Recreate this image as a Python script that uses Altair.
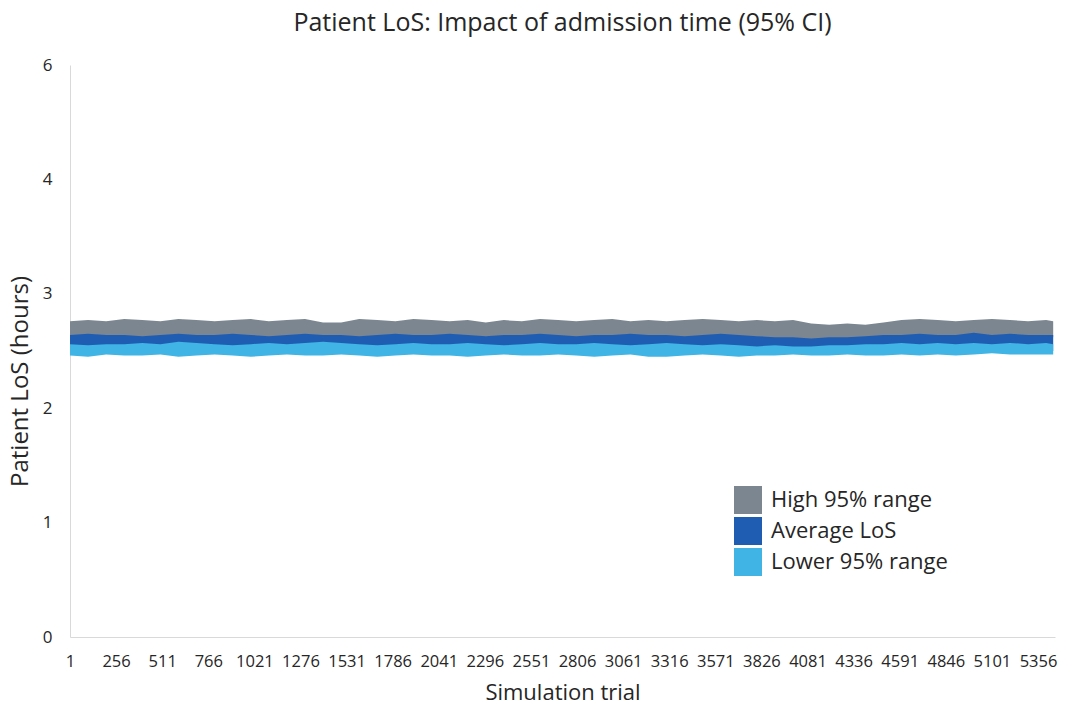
import altair as alt
import pandas as pd

trials = [1, 101, 201, 301, 401, 501, 601, 701, 801, 901,
          1001, 1101, 1201, 1301, 1401, 1501, 1601, 1701, 1801, 1901,
          2001, 2101, 2201, 2301, 2401, 2501, 2601, 2701, 2801, 2901,
          3001, 3101, 3201, 3301, 3401, 3501, 3601, 3701, 3801, 3901,
          4001, 4101, 4201, 4301, 4401, 4501, 4601, 4701, 4801, 4901,
          5001, 5101, 5201, 5301, 5401, 5440]

# upper / lower envelopes of each (dense, noisy) series
high_top = [2.76, 2.77, 2.76, 2.78, 2.77, 2.76, 2.78, 2.77, 2.76, 2.77,
            2.78, 2.76, 2.77, 2.78, 2.75, 2.75, 2.78, 2.77, 2.76, 2.78,
            2.77, 2.76, 2.77, 2.75, 2.77, 2.76, 2.78, 2.77, 2.76, 2.77,
            2.78, 2.76, 2.77, 2.76, 2.77, 2.78, 2.77, 2.76, 2.77, 2.76,
            2.77, 2.74, 2.73, 2.74, 2.73, 2.75, 2.77, 2.78, 2.77, 2.76,
            2.77, 2.78, 2.77, 2.76, 2.77, 2.76]
high_bot = [2.62, 2.62, 2.62, 2.62, 2.62, 2.62, 2.62, 2.62, 2.62, 2.62,
            2.62, 2.62, 2.62, 2.62, 2.62, 2.62, 2.62, 2.62, 2.62, 2.62,
            2.62, 2.62, 2.62, 2.62, 2.62, 2.62, 2.62, 2.62, 2.62, 2.62,
            2.62, 2.62, 2.62, 2.62, 2.62, 2.62, 2.62, 2.62, 2.61, 2.60,
            2.60, 2.60, 2.60, 2.60, 2.61, 2.62, 2.62, 2.62, 2.62, 2.62,
            2.62, 2.62, 2.62, 2.62, 2.62, 2.62]
avg_top = [2.64, 2.65, 2.64, 2.64, 2.63, 2.64, 2.65, 2.64, 2.64, 2.65,
           2.64, 2.63, 2.64, 2.65, 2.64, 2.64, 2.63, 2.64, 2.65, 2.64,
           2.64, 2.65, 2.64, 2.63, 2.64, 2.64, 2.65, 2.64, 2.63, 2.64,
           2.64, 2.65, 2.64, 2.64, 2.63, 2.64, 2.65, 2.64, 2.63, 2.62,
           2.62, 2.61, 2.62, 2.62, 2.63, 2.64, 2.64, 2.65, 2.64, 2.64,
           2.66, 2.64, 2.65, 2.64, 2.64, 2.64]
avg_bot = [2.53, 2.53, 2.53, 2.53, 2.53, 2.53, 2.53, 2.53, 2.53, 2.53,
           2.53, 2.53, 2.53, 2.53, 2.53, 2.53, 2.53, 2.53, 2.53, 2.53,
           2.53, 2.53, 2.53, 2.53, 2.53, 2.53, 2.53, 2.53, 2.53, 2.53,
           2.53, 2.53, 2.53, 2.53, 2.53, 2.53, 2.53, 2.53, 2.52, 2.52,
           2.52, 2.52, 2.52, 2.52, 2.53, 2.53, 2.53, 2.53, 2.53, 2.53,
           2.53, 2.53, 2.53, 2.53, 2.53, 2.50]
low_top = [2.56, 2.55, 2.56, 2.56, 2.57, 2.56, 2.58, 2.57, 2.56, 2.55,
           2.56, 2.57, 2.56, 2.57, 2.58, 2.57, 2.56, 2.55, 2.56, 2.57,
           2.56, 2.56, 2.57, 2.56, 2.55, 2.56, 2.57, 2.56, 2.56, 2.57,
           2.56, 2.55, 2.56, 2.57, 2.56, 2.55, 2.56, 2.55, 2.54, 2.55,
           2.54, 2.54, 2.55, 2.55, 2.56, 2.56, 2.57, 2.56, 2.57, 2.56,
           2.57, 2.56, 2.57, 2.56, 2.57, 2.56]
low_bot = [2.46, 2.45, 2.47, 2.46, 2.46, 2.47, 2.45, 2.46, 2.47, 2.46,
           2.45, 2.46, 2.47, 2.46, 2.46, 2.47, 2.46, 2.45, 2.46, 2.47,
           2.46, 2.46, 2.45, 2.46, 2.47, 2.46, 2.46, 2.47, 2.46, 2.45,
           2.46, 2.47, 2.45, 2.45, 2.46, 2.47, 2.46, 2.45, 2.46, 2.46,
           2.47, 2.46, 2.46, 2.47, 2.46, 2.46, 2.47, 2.46, 2.47, 2.46,
           2.47, 2.48, 2.47, 2.47, 2.47, 2.47]

series_names = ["High 95% range", "Average LoS", "Lower 95% range"]
series_colors = ["#7b8690", "#1f5db3", "#3fb4e5"]
x_ticks = [1, 256, 511, 766, 1021, 1276, 1531, 1786, 2041, 2296, 2551,
           2806, 3061, 3316, 3571, 3826, 4081, 4336, 4591, 4846, 5101, 5356]
y_ticks = [0, 1, 2, 3, 4, 5]

rows = []
for name, lo, hi in zip(series_names, [high_bot, avg_bot, low_bot], [high_top, avg_top, low_top]):
    for t, a, b in zip(trials, lo, hi):
        rows.append({"series": name, "trial": t, "lo": a, "hi": b})
df = pd.DataFrame(rows)

FONT = "Open Sans"
TXT = "#262626"

color = alt.Color(
    "series:N",
    scale=alt.Scale(domain=series_names, range=series_colors),
    legend=alt.Legend(
        title=None, orient="none", legendX=664, legendY=421,
        symbolType="square", symbolSize=784, symbolStrokeWidth=0,
        symbolOpacity=1, labelFontSize=22, labelFont=FONT, labelColor=TXT,
        labelLimit=400, rowPadding=3, labelOffset=9,
    ),
)

x = alt.X("trial:Q", scale=alt.Scale(domain=[1, 5450], nice=False, zero=False),
          axis=alt.Axis(values=x_ticks, format="d", title="Simulation trial", grid=False, ticks=False,
                        labelFontSize=16.5, labelFont=FONT, labelColor=TXT, labelPadding=16,
                        titleFontSize=22, titleFont=FONT, titleFontWeight="normal", titleColor=TXT,
                        titlePadding=13, domainColor="#d9d9d9", labelOverlap=False, labelFlush=False))
y = alt.Y("lo:Q", scale=alt.Scale(domain=[0, 5], nice=False),
          axis=alt.Axis(values=y_ticks, title="Patient LoS (hours)", grid=False, ticks=False,
                        labelExpr="datum.value == 5 ? '6' : datum.label",
                        labelFontSize=17, labelFont=FONT, labelColor=TXT, labelPadding=18,
                        titleFontSize=24, titleFont=FONT, titleFontWeight="normal", titleColor=TXT,
                        titleX=-38, titleY=316, titleAngle=-90, titleAlign="center",
                        domainColor="#d9d9d9"))

base = alt.Chart(df).mark_area(opacity=1, interpolate="linear").encode(
    x=x, y=y, y2="hi:Q", color=color
)

layers = [base.transform_filter(alt.datum.series == n) for n in series_names]

chart = alt.layer(*layers).properties(
    width=985, height=572,
    title=alt.TitleParams("Patient LoS: Impact of admission time (95% CI)", fontSize=25,
                          font=FONT, fontWeight="normal", color=TXT, offset=20, anchor="middle"),
    autosize=alt.AutoSizeParams(type="none"),
    padding={"left": 70, "top": 65, "right": 22, "bottom": 70},
).configure_view(stroke=None)

chart.save("out.html", embed_options={"renderer": "svg", "actions": False})
